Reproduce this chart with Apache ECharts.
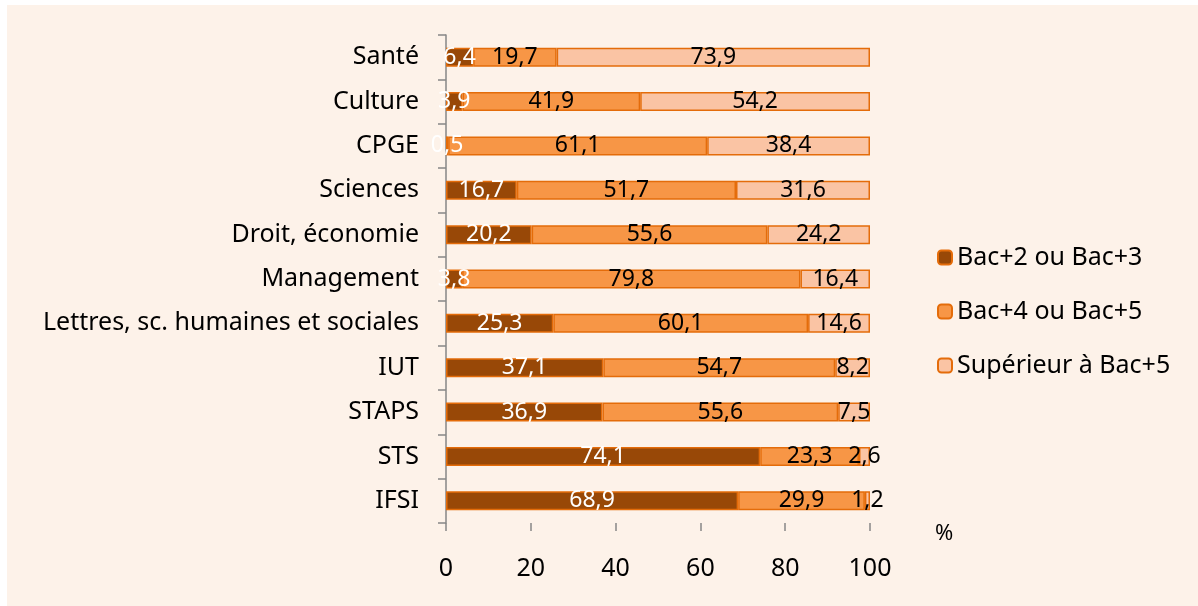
<!DOCTYPE html>
<html>
<head>
<meta charset="utf-8">
<script src="https://cdn.jsdelivr.net/npm/echarts@6/dist/echarts.min.js"></script>
<style>
  html, body { margin: 0; padding: 0; background: #fff; }
  #chart { position: absolute; left: 7px; top: 5px; width: 1191px; height: 601px; background: #fdf2e9; }
</style>
</head>
<body>
<div id="chart"></div>
<script>
var categories = ['Santé', 'Culture', 'CPGE', 'Sciences', 'Droit, économie', 'Management',
    'Lettres, sc. humaines et sociales', 'IUT', 'STAPS', 'STS', 'IFSI'];
var bac23 = [6.4, 3.9, 0.5, 16.7, 20.2, 3.8, 25.3, 37.1, 36.9, 74.1, 68.9];
var bac45 = [19.7, 41.9, 61.1, 51.7, 55.6, 79.8, 60.1, 54.7, 55.6, 23.3, 29.9];
var sup5 = [73.9, 54.2, 38.4, 31.6, 24.2, 16.4, 14.6, 8.2, 7.5, 2.6, 1.2];
var xTicks = [0, 20, 40, 60, 80, 100];

var font = 'Noto Sans';
var fmt = function (p) { return String(p.value).replace('.', ','); };

function serie(name, data, color, labelColor) {
    return {
        name: name,
        type: 'bar',
        stack: 'total',
        data: data,
        barWidth: 19,
        itemStyle: { color: color, borderColor: '#e46c0a', borderWidth: 1.5 },
        label: {
            show: true,
            position: 'inside',
            color: labelColor,
            fontFamily: font,
            fontSize: 23,
            formatter: fmt
        }
    };
}

var myChart = echarts.init(document.getElementById('chart'));
var option = {
    animation: false,
    grid: { left: 439, right: 328, top: 30, bottom: 83 },
    legend: {
        orient: 'vertical',
        left: 925,
        top: 235,
        itemWidth: 14,
        itemHeight: 14,
        itemGap: 29,
        textStyle: { fontFamily: font, fontSize: 25, color: '#000' },
        data: ['Bac+2 ou Bac+3', 'Bac+4 ou Bac+5', 'Supérieur à Bac+5']
    },
    xAxis: {
        type: 'value',
        min: 0,
        max: 100,
        interval: 20,
        name: '%',
        nameLocation: 'end',
        nameGap: 0,
        nameTextStyle: { fontFamily: font, fontSize: 22, color: '#000', verticalAlign: 'top', padding: [0, 0, 0, 65] },
        axisLine: { lineStyle: { color: '#868686', width: 1.5 } },
        axisTick: { show: true, length: 8, lineStyle: { color: '#868686', width: 1.5 } },
        axisLabel: {
            margin: 33,
            fontFamily: font, fontSize: 25, color: '#000',
            formatter: function (v) { return xTicks.indexOf(v) >= 0 ? String(v) : ''; }
        },
        splitLine: { show: false }
    },
    yAxis: {
        type: 'category',
        inverse: true,
        data: categories,
        axisLine: { lineStyle: { color: '#868686', width: 1.5 } },
        axisTick: { show: true, length: 8, inside: false, lineStyle: { color: '#868686', width: 1.5 } },
        axisLabel: { margin: 27, fontFamily: font, fontSize: 25, color: '#000' }
    },
    series: [
        serie('Bac+2 ou Bac+3', bac23, '#984807', '#fff'),
        serie('Bac+4 ou Bac+5', bac45, '#f79646', '#000'),
        serie('Supérieur à Bac+5', sup5, '#fac4a4', '#000')
    ]
};
myChart.setOption(option);
</script>
</body>
</html>
